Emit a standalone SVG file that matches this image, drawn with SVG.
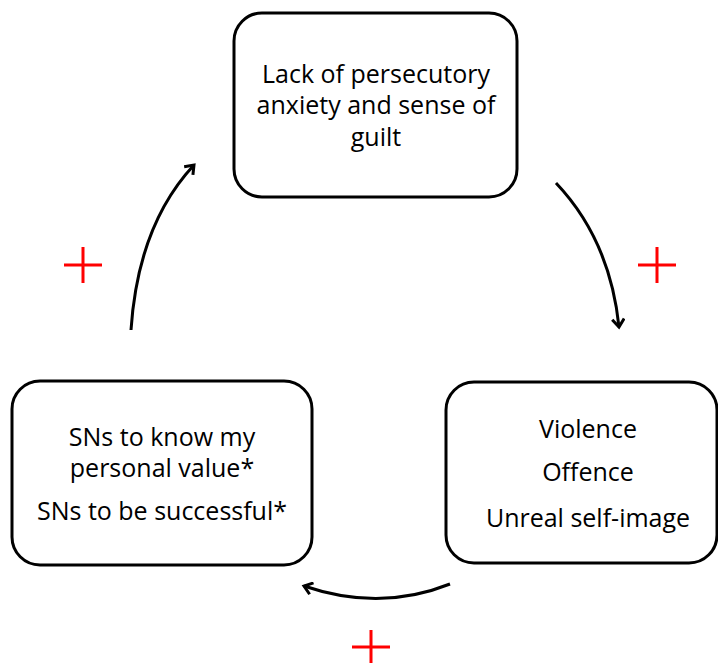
<svg xmlns="http://www.w3.org/2000/svg" width="718" height="663" viewBox="0 0 718 663">
<style>
.box{fill:#fff;stroke:#000;stroke-width:3}
.t{font-family:"Open Sans","Liberation Sans",sans-serif;font-size:25px;fill:#000;text-anchor:middle}
.c{fill:none;stroke:#000;stroke-width:3}
.p{stroke:#f00;stroke-width:3}
</style>
<defs>
<marker id="ah" markerWidth="14" markerHeight="14" refX="10" refY="7" orient="auto" markerUnits="userSpaceOnUse">
<path d="M2,1 L10,7 L2,13" fill="none" stroke="#000" stroke-width="3"/>
</marker>
</defs>
<rect width="718" height="663" fill="#fff"/>
<g id="n-top">
<rect class="box" x="234" y="13" width="283" height="184" rx="28"/>
<text class="t" x="376" y="83">Lack of persecutory</text>
<text class="t" x="376" y="114">anxiety and sense of</text>
<text class="t" x="376" y="146">guilt</text>
</g>
<g id="n-right">
<rect class="box" x="446" y="382" width="271" height="181" rx="28"/>
<text class="t" x="588" y="438">Violence</text>
<text class="t" x="588" y="481">Offence</text>
<text class="t" x="588" y="527">Unreal self-image</text>
</g>
<g id="n-left">
<rect class="box" x="12" y="381" width="300" height="184" rx="28"/>
<text class="t" x="162" y="446">SNs to know my</text>
<text class="t" x="162" y="477">personal value*</text>
<text class="t" x="162" y="520">SNs to be successful*</text>
</g>
<g id="connectors">
<path class="c" d="M556,183 Q610,240 619,327" marker-end="url(#ah)"/>
<path class="c" d="M450,584 Q380,612 304,586" marker-end="url(#ah)"/>
<path class="c" d="M131,330 Q138,225 194,165" marker-end="url(#ah)"/>
</g>
<g id="signs">
<path class="p" d="M64,265 H102 M83,247 V283"/>
<path class="p" d="M638,265 H676 M657,247 V283"/>
<path class="p" d="M352,647 H390 M371,630 V663"/>
</g>
</svg>
